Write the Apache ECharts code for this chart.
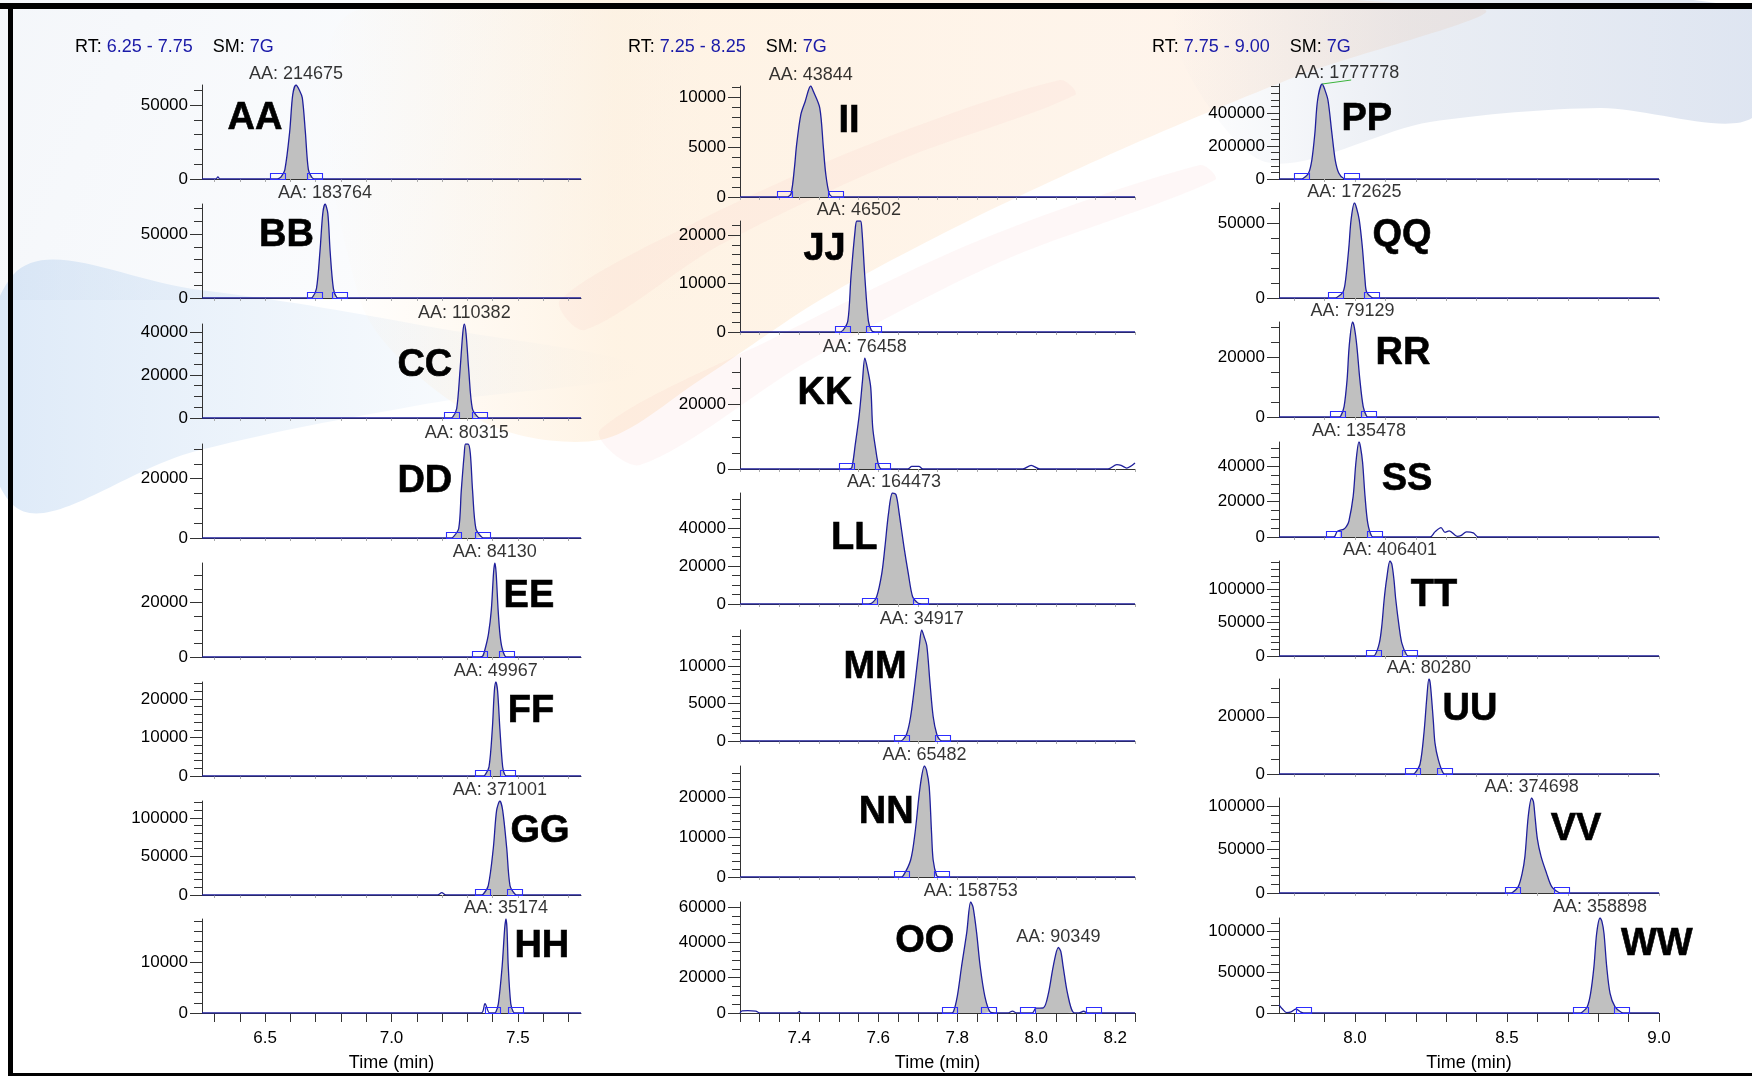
<!DOCTYPE html>
<html>

<head>
    <meta charset="utf-8">
    <script src="https://cdn.jsdelivr.net/npm/echarts@6/dist/echarts.min.js"></script>
    <style>
        html, body { margin: 0; padding: 0; background: #ffffff; }
        #main { width: 1752px; height: 1076px; }
    </style>
</head>

<body>
    <div id="main"></div>

    <script type="text/javascript">
        // ---- data ----
        var panelNames = ['AA', 'BB', 'CC', 'DD', 'EE', 'FF', 'GG', 'HH',
            'II', 'JJ', 'KK', 'LL', 'MM', 'NN', 'OO',
            'PP', 'QQ', 'RR', 'SS', 'TT', 'UU', 'VV', 'WW'];

        // time ranges, tick labels and header of each column
        var colRange = [[6.25, 7.75], [7.25, 8.25], [7.75, 9.0]];
        var colLabels = [[6.5, 7.0, 7.5], [7.4, 7.6, 7.8, 8.0, 8.2], [8.0, 8.5, 9.0]];
        var colTickStep = [0.1, 0.05, 0.1];
        var colRT = ['6.25 - 7.75', '7.25 - 8.25', '7.75 - 9.00'];
        var colSM = ['7G', '7G', '7G'];

        // y scale of each panel
        var yMax = [63700, 73400, 43700, 31700, 34500, 24400, 121800, 18400,
            11080, 22900, 34500, 58400, 14860, 27750, 62860,
            575800, 63300, 31900, 53700, 142400, 33200, 109300, 115800];
        var yLabelStep = [50000, 50000, 20000, 20000, 20000, 10000, 50000, 10000,
            5000, 10000, 20000, 20000, 5000, 10000, 20000,
            200000, 50000, 20000, 20000, 50000, 20000, 50000, 50000];
        var yMinorStep = [10000, 10000, 5000, 5000, 5000, 2000, 10000, 2000,
            1000, 2000, 5000, 5000, 1000, 2000, 5000,
            40000, 10000, 5000, 5000, 10000, 5000, 10000, 10000];

        // traces [time, intensity]
        var trAA = [[6.25, 0], [6.305, 0], [6.313, 1500], [6.321, 0], [6.542, 0], [6.553, 300], [6.563, 1500], [6.578, 6400], [6.597, 32000], [6.609, 57000], [6.622, 63700], [6.636, 60000], [6.647, 55000], [6.659, 32000], [6.671, 6400], [6.686, 800], [6.70, 0], [7.75, 0]];
        var trBB = [[6.25, 0], [6.675, 0], [6.687, 500], [6.703, 7300], [6.717, 36700], [6.728, 66000], [6.737, 73400], [6.748, 66000], [6.757, 36700], [6.770, 7300], [6.783, 500], [6.795, 0], [7.75, 0]];
        var trCC = [[6.25, 0], [7.230, 0], [7.242, 400], [7.258, 4400], [7.271, 21800], [7.282, 39300], [7.288, 43700], [7.295, 39300], [7.306, 21800], [7.320, 4400], [7.343, 300], [7.355, 0], [7.75, 0]];
        var trDD = [[6.25, 0], [7.232, 0], [7.244, 300], [7.266, 3200], [7.276, 15800], [7.288, 28500], [7.293, 31700], [7.303, 31700], [7.312, 28500], [7.321, 15800], [7.334, 3200], [7.357, 300], [7.368, 0], [7.75, 0]];
        var trEE = [[6.25, 0], [7.350, 0], [7.361, 300], [7.372, 3500], [7.384, 8600], [7.395, 17200], [7.404, 31000], [7.409, 34500], [7.414, 31000], [7.422, 17200], [7.429, 8600], [7.437, 3500], [7.449, 300], [7.460, 0], [7.75, 0]];
        var trFF = [[6.25, 0], [7.360, 0], [7.370, 250], [7.386, 2400], [7.399, 12200], [7.407, 22000], [7.413, 24400], [7.420, 22000], [7.429, 12200], [7.440, 2400], [7.449, 250], [7.460, 0], [7.75, 0]];
        var trGG = [[6.25, 0], [7.183, 0], [7.199, 3000], [7.215, 0], [7.350, 0], [7.363, 1000], [7.383, 12200], [7.403, 60900], [7.416, 109600], [7.429, 121800], [7.440, 109600], [7.456, 60900], [7.469, 12200], [7.489, 1000], [7.500, 0], [7.75, 0]];
        var trHH = [[6.25, 0], [7.355, 0], [7.370, 1830], [7.388, 0], [7.405, 0], [7.413, 200], [7.423, 1840], [7.438, 9200], [7.448, 16600], [7.453, 18400], [7.457, 16600], [7.462, 9200], [7.472, 1840], [7.482, 200], [7.490, 0], [7.75, 0]];
        var trII = [[7.25, 0], [7.368, 0], [7.379, 300], [7.388, 2980], [7.393, 5110], [7.404, 8230], [7.415, 9540], [7.429, 11080], [7.436, 10520], [7.452, 8880], [7.461, 4950], [7.467, 2330], [7.476, 330], [7.486, 0], [8.25, 0]];
        var trJJ = [[7.25, 0], [7.500, 0], [7.510, 300], [7.523, 2300], [7.531, 11450], [7.541, 20600], [7.546, 22900], [7.555, 22900], [7.559, 20600], [7.566, 11450], [7.575, 2300], [7.583, 300], [7.592, 0], [8.25, 0]];
        var trKK = [[7.25, 0], [7.525, 0], [7.533, 400], [7.542, 7800], [7.552, 17000], [7.560, 27300], [7.566, 34500], [7.573, 31000], [7.581, 25300], [7.586, 12900], [7.594, 5750], [7.600, 1640], [7.608, 0], [7.675, 0], [7.685, 800], [7.703, 800], [7.713, 0], [7.966, 0], [7.987, 1130], [8.009, 0], [8.182, 0], [8.204, 1330], [8.215, 1100], [8.229, 300], [8.25, 1850]];
        var trLL = [[7.25, 0], [7.575, 0], [7.585, 600], [7.596, 3840], [7.609, 16150], [7.617, 30150], [7.626, 47700], [7.636, 58400], [7.645, 57500], [7.653, 47700], [7.665, 30150], [7.676, 16150], [7.687, 3840], [7.700, 500], [7.710, 0], [8.25, 0]];
        var trMM = [[7.25, 0], [7.655, 0], [7.662, 150], [7.672, 940], [7.682, 3280], [7.693, 7770], [7.704, 12750], [7.710, 14860], [7.716, 14000], [7.723, 12750], [7.731, 7770], [7.739, 3280], [7.748, 940], [7.756, 150], [7.765, 0], [8.25, 0]];
        var trNN = [[7.25, 0], [7.655, 0], [7.663, 300], [7.682, 4250], [7.693, 10920], [7.706, 22570], [7.717, 27750], [7.722, 26800], [7.729, 22570], [7.735, 10920], [7.739, 4250], [7.748, 300], [7.755, 0], [8.25, 0]];
        var trOO = [[7.25, 0], [7.255, 1200], [7.270, 1300], [7.290, 1100], [7.300, 0], [7.395, 0], [7.400, 700], [7.405, 0], [7.780, 0], [7.790, 600], [7.800, 9300], [7.811, 26460], [7.824, 45500], [7.834, 62860], [7.840, 60000], [7.849, 45500], [7.858, 26460], [7.870, 9300], [7.883, 600], [7.895, 0], [7.928, 0], [7.940, 1100], [7.950, 0], [7.990, 0], [7.999, 2700], [8.018, 2900], [8.031, 11250], [8.043, 26460], [8.056, 37100], [8.062, 35000], [8.068, 26460], [8.079, 11250], [8.094, 300], [8.108, 0], [8.120, 1000], [8.130, 0], [8.25, 0]];
        var trPP = [[7.75, 0], [7.820, 0], [7.829, 3000], [7.847, 34500], [7.858, 115000], [7.868, 277000], [7.877, 478800], [7.892, 575800], [7.900, 545000], [7.911, 478800], [7.924, 277000], [7.935, 115000], [7.947, 34500], [7.963, 3000], [7.975, 0], [9.0, 0]];
        var trQQ = [[7.75, 0], [7.930, 0], [7.940, 300], [7.961, 4200], [7.969, 12000], [7.980, 34200], [7.987, 52000], [7.998, 63300], [8.005, 60000], [8.014, 52000], [8.024, 34200], [8.033, 12000], [8.038, 4200], [8.055, 300], [8.065, 0], [9.0, 0]];
        var trRR = [[7.75, 0], [7.945, 0], [7.953, 300], [7.964, 3500], [7.974, 12550], [7.981, 23900], [7.992, 31900], [7.998, 30000], [8.006, 23900], [8.016, 12550], [8.027, 3500], [8.038, 300], [8.045, 0], [9.0, 0]];
        var trSS = [[7.75, 0], [7.925, 0], [7.933, 300], [7.941, 3000], [7.950, 3800], [7.962, 4300], [7.972, 6000], [7.980, 9000], [7.994, 23000], [8.003, 42100], [8.013, 53700], [8.018, 51000], [8.025, 42100], [8.033, 23000], [8.042, 7800], [8.055, 400], [8.065, 0], [8.247, 0], [8.263, 2900], [8.283, 5300], [8.296, 2600], [8.310, 3500], [8.336, 400], [8.348, 760], [8.367, 2900], [8.389, 2300], [8.406, 0], [9.0, 0]];
        var trTT = [[7.75, 0], [8.055, 0], [8.066, 1500], [8.080, 19300], [8.088, 44400], [8.096, 85000], [8.104, 115100], [8.115, 142400], [8.121, 138000], [8.128, 115100], [8.134, 85000], [8.145, 44400], [8.154, 19300], [8.170, 1500], [8.180, 0], [9.0, 0]];
        var trUU = [[7.75, 0], [8.188, 0], [8.197, 300], [8.214, 3500], [8.227, 14500], [8.236, 26400], [8.243, 33200], [8.247, 32000], [8.252, 26400], [8.258, 18000], [8.263, 10900], [8.274, 5000], [8.290, 300], [8.300, 0], [9.0, 0]];
        var trVV = [[7.75, 0], [8.510, 0], [8.519, 800], [8.537, 7300], [8.550, 22900], [8.559, 42200], [8.570, 88600], [8.581, 109300], [8.587, 105000], [8.592, 88600], [8.600, 62000], [8.612, 42200], [8.630, 22900], [8.647, 7300], [8.669, 800], [8.680, 0], [9.0, 0]];
        var trWW = [[7.75, 10000], [7.762, 4500], [7.775, 500], [7.790, 1500], [7.806, 4900], [7.820, 1500], [7.831, 0], [8.740, 0], [8.746, 600], [8.764, 7700], [8.775, 24000], [8.786, 56500], [8.795, 97200], [8.806, 115800], [8.812, 112000], [8.819, 97200], [8.828, 56500], [8.839, 24000], [8.855, 7700], [8.877, 600], [8.890, 0], [9.0, 0]];
        var traces = [trAA, trBB, trCC, trDD, trEE, trFF, trGG, trHH, trII, trJJ, trKK, trLL, trMM, trNN, trOO,
            trPP, trQQ, trRR, trSS, trTT, trUU, trVV, trWW];

        // integrated (grey) time ranges
        var fills = [[[6.553, 6.690]], [[6.687, 6.783]], [[7.242, 7.343]], [[7.244, 7.357]], [[7.361, 7.449]], [[7.370, 7.449]], [[7.363, 7.489]], [[7.413, 7.482]],
            [[7.379, 7.476]], [[7.510, 7.583]], [[7.533, 7.608]], [[7.585, 7.700]], [[7.662, 7.756]], [[7.663, 7.748]], [[7.790, 7.883], [7.999, 8.094]],
            [[7.829, 7.963]], [[7.940, 8.055]], [[7.953, 8.038]], [[7.950, 8.055]], [[8.066, 8.170]], [[8.197, 8.290]], [[8.519, 8.669]], [[8.746, 8.877]]];

        // peak start / end markers (time)
        var markers = [[6.550, 6.696], [6.695, 6.795], [7.239, 7.350], [7.246, 7.362], [7.350, 7.457], [7.361, 7.461], [7.361, 7.487], [7.401, 7.489],
            [7.363, 7.493], [7.510, 7.589], [7.520, 7.612], [7.578, 7.708], [7.660, 7.763], [7.660, 7.759], [7.781, 7.880, 7.978, 8.145],
            [7.825, 7.987], [7.937, 8.055], [7.943, 8.046], [7.930, 8.063], [8.062, 8.180], [8.190, 8.295], [8.517, 8.680], [7.832, 8.743, 8.877]];

        // peak area labels [apex time, apex height, text, label shift px]
        var peakLabels = [
            [[6.622, 63700, 'AA: 214675']], [[6.737, 73400, 'AA: 183764']], [[7.288, 43700, 'AA: 110382']], [[7.298, 31700, 'AA: 80315']],
            [[7.409, 34500, 'AA: 84130']], [[7.413, 24400, 'AA: 49967']], [[7.429, 121800, 'AA: 371001']], [[7.453, 18400, 'AA: 35174']],
            [[7.429, 11080, 'AA: 43844']], [[7.551, 22900, 'AA: 46502']], [[7.566, 34500, 'AA: 76458']], [[7.640, 58400, 'AA: 164473']],
            [[7.710, 14860, 'AA: 34917']], [[7.717, 27750, 'AA: 65482']], [[7.834, 62860, 'AA: 158753'], [8.056, 37100, 'AA: 90349']],
            [[7.892, 575800, 'AA: 1777778', 25]], [[7.998, 63300, 'AA: 172625']], [[7.992, 31900, 'AA: 79129']], [[8.013, 53700, 'AA: 135478']],
            [[8.115, 142400, 'AA: 406401']], [[8.243, 33200, 'AA: 80280']], [[8.581, 109300, 'AA: 374698']], [[8.806, 115800, 'AA: 358898']]];

        // where the big compound names sit (time, fraction of panel height)
        var nameT = [6.460, 6.584, 7.132, 7.132, 7.544, 7.552, 7.588, 7.595, 7.526, 7.464, 7.465, 7.539, 7.592, 7.620, 7.718,
            8.039, 8.155, 8.158, 8.171, 8.260, 8.378, 8.727, 8.993];
        var nameF = [0.645, 0.67, 0.56, 0.60, 0.64, 0.69, 0.68, 0.71, 0.68, 0.74, 0.68, 0.59, 0.66, 0.58, 0.645,
            0.63, 0.66, 0.67, 0.60, 0.64, 0.68, 0.67, 0.72];

        // ---- layout ----
        var FONT = '"Liberation Sans", Arial, Helvetica, sans-serif';
        var colLeft = [202, 740, 1279];
        var colWidth = [379, 395, 380];
        var baseY = [[179, 298, 418, 538, 657, 776, 895, 1013],
            [197, 332, 469, 604, 741, 877, 1013],
            [179, 298, 417, 537, 656, 774, 893, 1013]];
        var plotH = [94, 111, 95];
        var headerLeft = [75, 628, 1152];

        function stepList(a, b, step) {
            var out = [];
            for (var k = Math.ceil(a / step - 1e-6); k * step <= b + 1e-6; k++) {
                out.push(Math.round(k * step * 1000) / 1000);
            }
            return out;
        }

        function lg(x0, y0, x1, y1, stops) {
            return {
                type: 'linear', x: x0, y: y0, x2: x1, y2: y1,
                colorStops: stops.map(function (s) { return { offset: s[0], color: s[1] }; })
            };
        }

        function rectItem(params, api) {
            var p = api.coord([api.value(0), 0]);
            return {
                type: 'rect',
                shape: { x: Math.round(p[0] - 7.5) + 0.5, y: Math.round(p[1] - 6) + 0.5, width: 15, height: 6 },
                style: { fill: 'none', stroke: '#2e2eff', lineWidth: 1.1 }
            };
        }

        function leadItem(params, api) {
            var p = api.coord([api.value(0), api.value(1)]);
            var dx = api.value(2);
            return {
                type: 'line',
                shape: { x1: p[0], y1: p[1], x2: p[0] + dx + 4, y2: p[1] - 4 },
                style: { stroke: '#3cb43c', lineWidth: 1 }
            };
        }

        function nameItem(text) {
            return function (params, api) {
                var p = api.coord([api.value(0), api.value(1)]);
                return {
                    type: 'text', x: p[0], y: p[1],
                    style: {
                        text: text, fill: '#000', stroke: '#000', lineWidth: 0.6,
                        fontSize: 38, fontWeight: 'bold', fontFamily: FONT,
                        align: 'center', verticalAlign: 'middle'
                    }
                };
            };
        }

        var grids = [], xAxes = [], yAxes = [], series = [];

        panelNames.forEach(function (nm, i) {
            var c = i < 8 ? 0 : (i < 15 ? 1 : 2);
            var r = c === 0 ? i : (c === 1 ? i - 8 : i - 15);
            var last = r === baseY[c].length - 1;
            var tr = traces[i];

            grids.push({ left: colLeft[c], width: colWidth[c], top: baseY[c][r] - plotH[c], height: plotH[c] });

            var xTicks = stepList(colRange[c][0], colRange[c][1], colTickStep[c]);
            xAxes.push({
                type: 'value', gridIndex: i, min: colRange[c][0], max: colRange[c][1],
                axisLine: { show: true, onZero: false, lineStyle: { color: '#333', width: 1 } },
                axisTick: last
                    ? { show: true, customValues: xTicks, length: 9, lineStyle: { color: '#333' } }
                    : { show: true, customValues: xTicks, length: 3, lineStyle: { color: '#aaa' } },
                axisLabel: last
                    ? { show: true, customValues: colLabels[c], formatter: function (v) { return v.toFixed(1); }, margin: 17, fontSize: 17, color: '#000', fontFamily: FONT }
                    : { show: false },
                splitLine: { show: false },
                name: last ? 'Time (min)' : '',
                nameLocation: 'middle', nameGap: 41,
                nameTextStyle: { fontSize: 18, color: '#000', fontFamily: FONT }
            });

            var majors = stepList(0, yMax[i], yLabelStep[i]);
            var minors = stepList(0, yMax[i], yMinorStep[i]);
            yAxes.push({
                type: 'value', gridIndex: i, min: 0, max: yMax[i], position: 'left',
                axisLine: { show: true, lineStyle: { color: '#333', width: 1 } },
                axisTick: { show: true, customValues: majors, length: 12, lineStyle: { color: '#333' } },
                axisLabel: { show: true, customValues: majors, formatter: function (v) { return String(v); }, margin: 14, fontSize: 17, color: '#000', fontFamily: FONT },
                splitLine: { show: false }
            });
            yAxes.push({
                type: 'value', gridIndex: i, min: 0, max: yMax[i], position: 'left', offset: 0,
                axisLine: { show: false },
                axisTick: { show: true, customValues: minors, length: 8, lineStyle: { color: '#333' } },
                axisLabel: { show: false },
                splitLine: { show: false }
            });

            var yi = 2 * i;

            // grey integrated area
            fills[i].forEach(function (rg) {
                series.push({
                    type: 'line', xAxisIndex: i, yAxisIndex: yi, silent: true, z: 1,
                    data: tr.filter(function (p) { return p[0] >= rg[0] - 1e-9 && p[0] <= rg[1] + 1e-9; }),
                    smooth: 0.3, symbol: 'none',
                    lineStyle: { width: 0 },
                    areaStyle: { color: '#c0c0c0', opacity: 1 }
                });
            });

            // trace
            series.push({
                type: 'line', xAxisIndex: i, yAxisIndex: yi, silent: true, z: 3,
                data: tr, smooth: 0.3, symbol: 'none',
                lineStyle: { color: '#1f1f9c', width: 1.3 }
            });

            // peak boundary markers
            series.push({
                type: 'custom', xAxisIndex: i, yAxisIndex: yi, silent: true, z: 4,
                renderItem: rectItem,
                data: markers[i].map(function (t) { return [t, 0]; })
            });

            // area labels
            series.push({
                type: 'scatter', xAxisIndex: i, yAxisIndex: yi, silent: true, z: 5, clip: false,
                symbolSize: 1, itemStyle: { color: 'rgba(0,0,0,0)' },
                data: peakLabels[i].map(function (p) {
                    return { value: [p[0], p[1]], label: { formatter: p[2], offset: [p[3] || 0, 0] } };
                }),
                label: { show: true, position: 'top', distance: 1, fontSize: 18, color: '#000', fontFamily: FONT }
            });

            var leads = peakLabels[i].filter(function (p) { return p[3]; });
            if (leads.length) {
                series.push({
                    type: 'custom', xAxisIndex: i, yAxisIndex: yi, silent: true, z: 5,
                    renderItem: leadItem,
                    data: leads.map(function (p) { return [p[0], p[1], p[3]]; })
                });
            }

            // compound name
            series.push({
                type: 'custom', xAxisIndex: i, yAxisIndex: yi, silent: true, z: 6,
                renderItem: nameItem(nm),
                data: [[nameT[i], nameF[i] * yMax[i]]]
            });
        });

        var titles = colRT.map(function (rt, c) {
            return {
                left: headerLeft[c], top: 38, padding: 0,
                text: '{k|RT:} {v|' + rt + '}    {k|SM:} {v|' + colSM[c] + '}',
                textStyle: {
                    fontSize: 18, fontWeight: 'normal', fontFamily: FONT,
                    rich: {
                        k: { color: '#000', fontSize: 18, fontFamily: FONT },
                        v: { color: '#1a1aa8', fontSize: 18, fontFamily: FONT }
                    }
                }
            };
        });

        // decorative backdrop and frame
        var graphics = [
            { type: 'rect', z: -10, silent: true, shape: { x: 0, y: 0, width: 700, height: 300 },
              style: { fill: lg(0, 0, 1, 1, [[0, 'rgba(205,216,232,0.22)'], [1, 'rgba(205,218,238,0)']]) } },
            { type: 'polygon', z: -10, silent: true,
              shape: { smooth: 0.4, points: [[13, 275], [200, 290], [420, 325], [640, 370], [420, 405], [200, 450], [13, 505]] },
              style: { fill: lg(0, 0, 1, 0, [[0, 'rgba(165,198,236,0.38)'], [0.45, 'rgba(178,207,238,0.22)'], [1, 'rgba(190,215,240,0)']]) } },
            { type: 'polygon', z: -10, silent: true,
              shape: { smooth: 0.3, points: [[360, 9], [1480, 9], [1300, 75], [1120, 150], [960, 225], [820, 300], [700, 380], [600, 440], [480, 420], [360, 300]] },
              style: { fill: lg(0, 0, 1, 0, [[0, 'rgba(253,220,175,0)'], [0.25, 'rgba(253,215,165,0.3)'], [0.7, 'rgba(252,212,175,0.25)'], [1, 'rgba(250,195,155,0.22)']]) } },
            { type: 'polygon', z: -10, silent: true,
              shape: { smooth: 0.3, points: [[600, 430], [780, 335], [980, 240], [1200, 165], [1215, 180], [1000, 262], [810, 360], [640, 465]] },
              style: { fill: 'rgba(240,150,150,0.08)' } },
            { type: 'polygon', z: -10, silent: true,
              shape: { smooth: 0.3, points: [[560, 300], [700, 220], [880, 140], [1060, 80], [1075, 95], [900, 160], [720, 245], [585, 330]] },
              style: { fill: 'rgba(240,150,150,0.07)' } },
            { type: 'polygon', z: -10, silent: true,
              shape: { smooth: 0.3, points: [[1180, 9], [1752, 9], [1752, 118], [1600, 108], [1430, 122], [1260, 160]] },
              style: { fill: lg(0, 0, 1, 0, [[0, 'rgba(170,185,210,0)'], [0.4, 'rgba(170,185,210,0.25)'], [1, 'rgba(160,180,215,0.35)']]) } },
            { type: 'rect', z: 100, silent: true, shape: { x: 0, y: 3, width: 1752, height: 6 }, style: { fill: '#000' } },
            { type: 'rect', z: 100, silent: true, shape: { x: 8, y: 3, width: 5, height: 1073 }, style: { fill: '#000' } },
            { type: 'rect', z: 100, silent: true, shape: { x: 8, y: 1073, width: 1744, height: 3 }, style: { fill: '#000' } }
        ];

        var option = {
            animation: false,
            backgroundColor: '#ffffff',
            title: titles,
            graphic: { elements: graphics },
            grid: grids,
            xAxis: xAxes,
            yAxis: yAxes,
            series: series
        };

        var chart = echarts.init(document.getElementById('main'));
        chart.setOption(option);
    </script>
</body>

</html>
